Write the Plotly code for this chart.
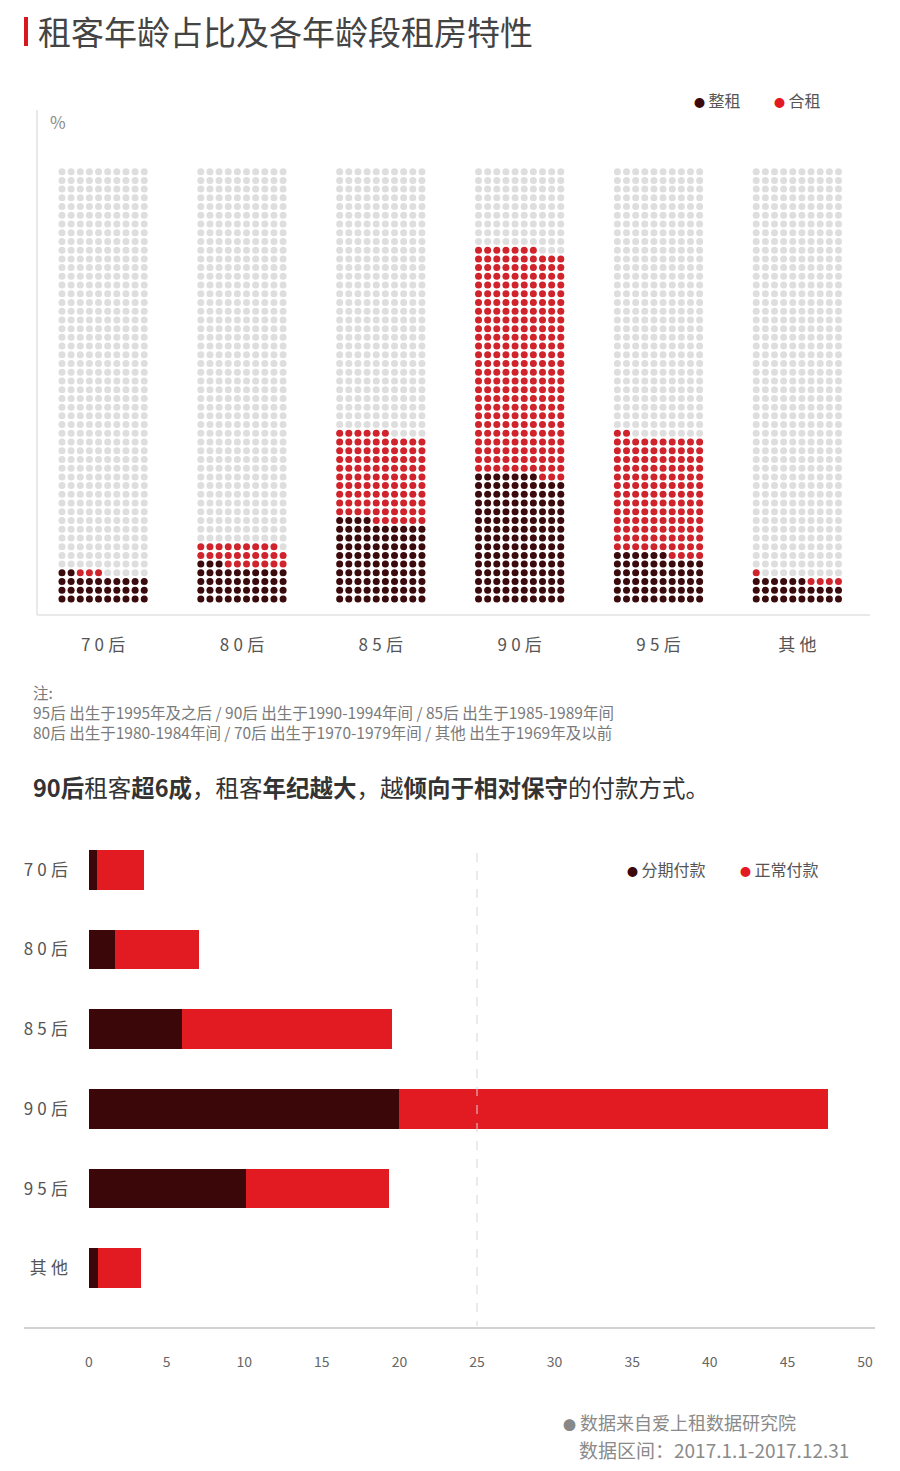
import plotly.graph_objects as go

W, H = 900, 1471
FONT = "Noto Sans CJK SC"

ages = ["70后", "80后", "85后", "90后", "95后", "其他"]

# top waffle: dots per age group (10 x 50 grid per group)
whole_rent = [32, 43, 94, 147, 56, 26]      # 整租
shared_rent = [3, 26, 102, 260, 136, 5]     # 合租
grid_cols, grid_rows = 10, 50

# bottom bars (%)
installment = [0.5, 1.7, 6.0, 20.0, 10.1, 0.55]   # 分期付款
normal_pay = [3.05, 5.4, 13.5, 27.6, 9.2, 2.8]    # 正常付款
x_ticks = [0, 5, 10, 15, 20, 25, 30, 35, 40, 45, 50]

DARK = "#3a0a0c"
RED_TOP = "#d0232b"
RED = "#e21b22"
GREY_DOT = "#dedede"
GROUP_STEP = 15.19  # spacing between groups, in dot units


def py(px):
    # pixel from top -> paper y
    return 1 - px / H


def px_x(px):
    return px / W


def spaced(s):
    return "\u2005".join(s)


def bullet(color, size=11):
    return f'<span style="color:{color};font-size:{size}px">●</span>'


dark_x, dark_y, red_x, red_y, grey_x, grey_y = [], [], [], [], [], []
for i in range(len(ages)):
    for k in range(grid_cols * grid_rows):
        r, c = divmod(k, grid_cols)
        xv = i * GROUP_STEP + c
        if k < whole_rent[i]:
            dark_x.append(xv); dark_y.append(r)
        elif k < whole_rent[i] + shared_rent[i]:
            red_x.append(xv); red_y.append(r)
        else:
            grey_x.append(xv); grey_y.append(r)

fig = go.Figure()
dot = dict(size=7, line=dict(width=0))
fig.add_trace(go.Scatter(x=grey_x, y=grey_y, mode="markers", name="",
                         marker=dict(color=GREY_DOT, **dot), hoverinfo="skip"))
fig.add_trace(go.Scatter(x=dark_x, y=dark_y, mode="markers", name="整租",
                         marker=dict(color=DARK, **dot)))
fig.add_trace(go.Scatter(x=red_x, y=red_y, mode="markers", name="合租",
                         marker=dict(color=RED_TOP, **dot)))

fig.add_trace(go.Bar(y=ages, x=installment, orientation="h", name="分期付款",
                     marker=dict(color="#3b0709", line=dict(width=0)),
                     xaxis="x2", yaxis="y2"))
fig.add_trace(go.Bar(y=ages, x=normal_pay, orientation="h", name="正常付款",
                     marker=dict(color=RED, line=dict(width=0)),
                     xaxis="x2", yaxis="y2"))

shapes = [
    dict(type="rect", xref="paper", yref="paper", x0=px_x(24), x1=px_x(28),
         y0=py(46), y1=py(17), fillcolor="#d7191f", line=dict(width=0)),
    dict(type="line", xref="paper", yref="paper", x0=px_x(37), x1=px_x(37),
         y0=py(110), y1=py(615), line=dict(color="#e2e2e2", width=1.5)),
    dict(type="line", xref="paper", yref="paper", x0=px_x(37), x1=px_x(870),
         y0=py(615), y1=py(615), line=dict(color="#e2e2e2", width=1.5)),
    dict(type="line", xref="paper", yref="paper", x0=px_x(24), x1=px_x(875),
         y0=py(1328), y1=py(1328), line=dict(color="#d2d2d2", width=2)),
    dict(type="line", xref="x2", yref="paper", x0=25, x1=25,
         y0=py(853), y1=py(1326), line=dict(color="#d6d6d6", width=1, dash="dash")),
]

grey_txt = "#8a8a8a"
annotations = [
    dict(x=px_x(36), y=py(31), text="租客年龄占比及各年龄段租房特性",
         font=dict(size=33, color="#444444", family=FONT)),
    dict(x=px_x(48), y=py(121), text="%", font=dict(size=17, color=grey_txt)),
    dict(x=px_x(692), y=py(100), text=bullet(DARK) + " 整租",
         font=dict(size=16, color="#555555")),
    dict(x=px_x(772), y=py(100), text=bullet(RED) + " 合租",
         font=dict(size=16, color="#555555")),
    dict(x=px_x(31), y=py(712),
         text="注:<br>95后 出生于1995年及之后 / 90后 出生于1990-1994年间 / 85后 出生于1985-1989年间"
              "<br>80后 出生于1980-1984年间 / 70后 出生于1970-1979年间 / 其他 出生于1969年及以前",
         align="left", font=dict(size=15.5, color="#7a7a7a")),
    dict(x=px_x(31), y=py(787),
         text="<b>90后</b>租客<b>超6成</b>，租客<b>年纪越大</b>，越<b>倾向于相对保守</b>的付款方式。",
         font=dict(size=23.5, color="#333333")),
    dict(x=px_x(625), y=py(869), text=bullet(DARK) + " 分期付款",
         font=dict(size=16, color="#555555")),
    dict(x=px_x(738), y=py(869), text=bullet(RED) + " 正常付款",
         font=dict(size=16, color="#555555")),
    dict(x=px_x(561), y=py(1422),
         text=bullet("#888888", 13) + " 数据来自爱上租数据研究院",
         font=dict(size=18, color=grey_txt)),
    dict(x=px_x(577), y=py(1449), text="数据区间：2017.1.1-2017.12.31",
         font=dict(size=19, color=grey_txt)),
]
for a in annotations:
    a.update(xref="paper", yref="paper", xanchor="left", yanchor="middle",
             showarrow=False)

fig.update_layout(
    width=W, height=H,
    autosize=False,
    margin=dict(l=0, r=0, t=0, b=0, pad=0),
    paper_bgcolor="white", plot_bgcolor="rgba(0,0,0,0)",
    font=dict(family=FONT, color="#555555"),
    showlegend=False,
    barmode="stack", bargap=0.5,
    xaxis=dict(domain=[0, 1], range=[-6.78, 91.68], anchor="y",
               tickvals=[i * GROUP_STEP + 4.5 for i in range(len(ages))],
               ticktext=[spaced(a) for a in ages],
               tickfont=dict(size=17, color="#555555"),
               showgrid=False, zeroline=False, showline=False, ticks="",
               ticklabelstandoff=13, automargin=False, fixedrange=True),
    yaxis=dict(domain=[py(620), py(100)], range=[-2.41, 57.22], anchor="x",
               visible=False, automargin=False, fixedrange=True),
    xaxis2=dict(domain=[px_x(89), px_x(865)], range=[0, 50], anchor="y2",
                tickvals=x_ticks, tickfont=dict(size=14, color="#666666"),
                showgrid=False, zeroline=False, showline=False, ticks="",
                ticklabelstandoff=24, automargin=False, fixedrange=True),
    yaxis2=dict(domain=[py(1328), py(830)], anchor="x2", type="category",
                categoryorder="array", categoryarray=ages,
                range=[5.75, -0.5],
                tickvals=ages, ticktext=[spaced(a) for a in ages],
                tickfont=dict(size=17, color="#555555"),
                showgrid=False, zeroline=False, showline=False, ticks="",
                ticklabelstandoff=20, automargin=False, fixedrange=True),
    shapes=shapes,
    annotations=annotations,
)

# drop the default page margin so the 900x1471 figure fills the window
fig.write_html("out.html", config={"displayModeBar": False},
               post_script="document.body.style.margin='0';")
